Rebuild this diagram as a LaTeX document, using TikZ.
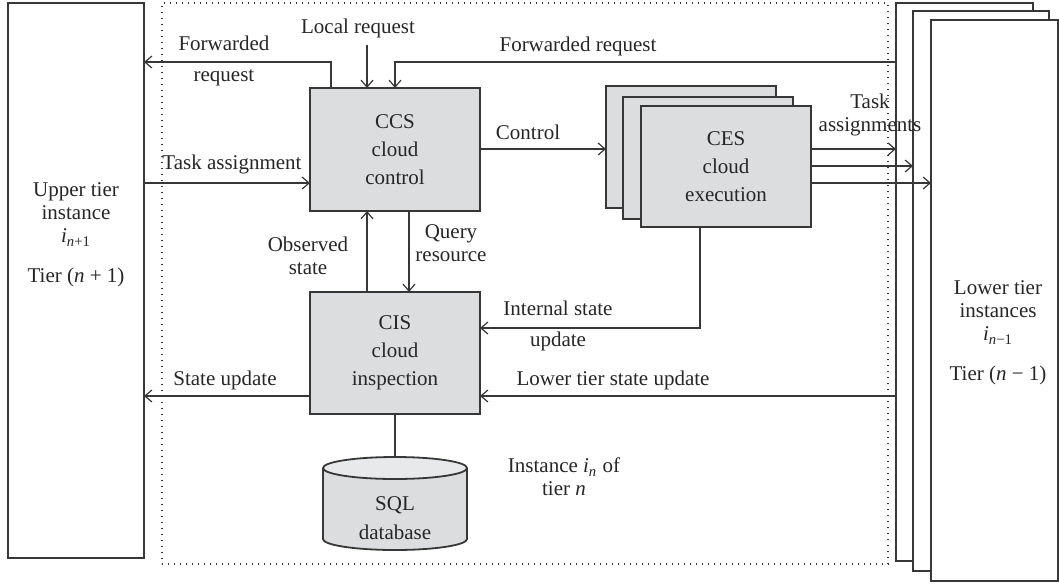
\documentclass[tikz,border=0pt]{standalone}
\usepackage{fontspec}
\setmainfont{Liberation Serif}
\usetikzlibrary{arrows.meta}
\definecolor{boxgray}{RGB}{220,221,223}
\definecolor{topgray}{RGB}{232,233,234}
\definecolor{linegray}{RGB}{55,55,55}
\begin{document}
\begin{tikzpicture}[x=0.5pt,y=-0.5pt,
  every node/.style={font=\fontsize{10.5}{11.5}\selectfont, inner sep=0pt, outer sep=0pt, align=center, text=black!85},
  conn/.style={draw=linegray, line width=0.6pt},
  arr/.style={conn, -{Straight Barb[length=3.5pt,width=6pt,line width=0.6pt]}},
  tierbox/.style={draw=linegray, line width=0.9pt, fill=white},
  gbox/.style={draw=linegray, line width=0.9pt, fill=boxgray, minimum width=85pt, font=\fontsize{10.5}{14}\selectfont},
  splitlbl/.style={font=\fontsize{10.5}{15.5}\selectfont},
  dotbox/.style={draw=linegray, line width=0.6pt, dash pattern=on 0.6pt off 2.4pt}
]
\useasboundingbox (0,0) rectangle (1059,584);

% instance frame (dotted)
\node[dotbox, minimum width=363pt, minimum height=280.5pt] (inst) at (525,283.5) {};

% upper tier box
\node[tierbox, minimum width=68pt, minimum height=277.5pt] (upper) at (76,280.5) {};
\node (upt) at (76,235) {Upper tier\\instance\\\textit{i}\textsubscript{\textit{n}+1}\\[8.5pt]Tier (\textit{n} + 1)};

% lower tier boxes
\node[tierbox, minimum width=68.5pt, minimum height=279pt] (rb1) at (964.5,282) {};
\node[tierbox, minimum width=68pt, minimum height=280pt] (rb2) at (981,291) {};
\node[tierbox, minimum width=63.5pt, minimum height=280.5pt] (rb3) at (994.5,300.5) {};
\node (lwt) at (998,333) {Lower tier\\instances\\\textit{i}\textsubscript{\textit{n}−1}\\[8.5pt]Tier (\textit{n} − 1)};

% main components
\node[gbox, minimum height=61.5pt] (ccs) at (395,149.5) {CCS\\cloud\\control};
\node[gbox, minimum height=61pt] (cis) at (395,353) {CIS\\cloud\\inspection};
\node[gbox, minimum height=61pt] (cesA) at (691,147) {};
\node[gbox, minimum height=61pt] (cesB) at (708,158) {};
\node[gbox, minimum height=60.5pt] (cesC) at (726,166.5) {CES\\cloud\\execution};

% database cylinder
\fill[boxgray] (323,468) -- (323,539) arc[start angle=180, end angle=0, x radius=72, y radius=11] -- (467,468) -- cycle;
\draw[conn, line width=0.9pt] (323,468) -- (323,539) arc[start angle=180, end angle=0, x radius=72, y radius=11] -- (467,468);
\filldraw[draw=linegray, line width=0.9pt, fill=topgray] (395,468) ellipse [x radius=72, y radius=11];
\coordinate (dbtop) at (395,457);
\node (db) at (395,518) {SQL\\[3pt]database};

% helper coordinates
\coordinate (fwdL) at (331,62);
\coordinate (fwdR) at (395,62);
\coordinate (lrs) at (367,45);
\coordinate (ta) at (0,183);
\coordinate (ctl) at (0,149);
\coordinate (t1) at (0,149);
\coordinate (t2) at (0,166);
\coordinate (t3) at (0,183);
\coordinate (obs) at (367,0);
\coordinate (qry) at (409,0);
\coordinate (isu) at (700,328);
\coordinate (lts) at (0,396);

% connectors
\draw[arr] (ccs.north -| fwdL) |- (upper.east |- fwdL);
\draw[arr] (lrs) -- (ccs.north -| lrs);
\draw[arr] (rb1.west |- fwdR) -| (ccs.north -| fwdR);
\draw[arr] (upper.east |- ta) -- (ccs.west |- ta);
\draw[arr] (ccs.east |- ctl) -- (cesA.west |- ctl);
\draw[arr] (cesC.east |- t1) -- (rb1.west |- t1);
\draw[arr] (cesC.east |- t2) -- (rb2.west |- t2);
\draw[arr] (cesC.east |- t3) -- (rb3.west |- t3);
\draw[arr] (cis.north -| obs) -- (ccs.south -| obs);
\draw[arr] (ccs.south -| qry) -- (cis.north -| qry);
\draw[arr] (cesC.south -| isu) |- (cis.east |- isu);
\draw[arr] (rb1.west |- lts) -- (cis.east |- lts);
\draw[arr] (cis.west |- lts) -- (upper.east |- lts);
\draw[conn] (cis.south) -- (dbtop);

% labels
\node[splitlbl] (lFwdL) at (224,61) {Forwarded\\request};
\node (lLocal) at (358,28) {Local request};
\node (lFwdR) at (578,46) {Forwarded request};
\node (lTask) at (232,164) {Task assignment};
\node (lCtl) at (528,132) {Control};
\node (lTasks) at (870,115) {Task\\assignments};
\node (lObs) at (308,256) {Observed\\state};
\node (lQry) at (451,243) {Query\\resource};
\node[splitlbl] (lInt) at (558,326) {Internal state\\update};
\node (lLts) at (613,380) {Lower tier state update};
\node (lSu) at (225,380) {State update};
\node (lInst) at (564,477) {Instance \textit{i}\textsubscript{\textit{n}} of\\tier \textit{n}};
\end{tikzpicture}
\end{document}
